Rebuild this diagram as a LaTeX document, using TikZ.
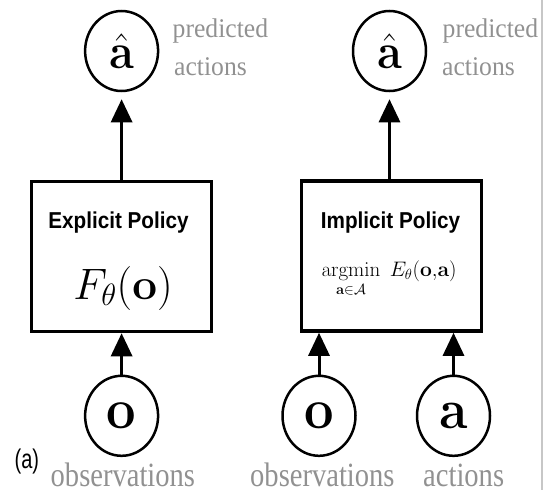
\RequirePackage{fix-cm}
\documentclass[tikz,border=0pt]{standalone}
\usepackage{amsmath}
\usepackage{graphicx}
\usepackage[no-math]{fontspec}
\setmainfont{Liberation Serif}
\newfontfamily\titlefont{Liberation Sans}
\newcommand\sqz[2]{\scalebox{#1}[1]{#2}}
\usetikzlibrary{arrows.meta,shapes.geometric}
\begin{document}
\begin{tikzpicture}[x=1pt,y=-1pt,
  lbl/.style={text=black!43, inner sep=0pt, anchor=base west, font=\fontsize{27}{27}\selectfont},
  lblb/.style={lbl, font=\fontsize{34}{34}\selectfont},
  var/.style={draw, ellipse, line width=2.5pt, minimum width=73pt, minimum height=80pt, inner sep=0pt},
  policy/.style={draw, rectangle, line width=3.5pt, minimum width=180pt, minimum height=150pt, inner sep=0pt},
  ptitle/.style={anchor=base, inner sep=0pt, font=\titlefont\bfseries\fontsize{23}{23}\selectfont},
  flow/.style={line width=3pt, -{Triangle[width=21pt,length=23pt]}},
  ]
\useasboundingbox (0,0) rectangle (545,490);
% right edge rule
\coordinate (edgeT) at (542,0);
\coordinate (edgeB) at (542,490);
\draw[black!22, line width=1.2pt] (edgeT) -- (edgeB);

% boxes
\node[policy] (boxL) at (121.6,256.5) {};
\node[policy] (boxR) at (391.3,256) {};
\node[ptitle] (tL) at (118.5,228.5) {\sqz{0.9}{Explicit Policy}};
\node[ptitle] (tR) at (390.5,228.5) {\sqz{0.9}{Implicit Policy}};
\node[anchor=base, inner sep=0pt] (fL) at (123,299) {\fontsize{44}{44}\selectfont$F_\theta(\mathbf{o})$};
\node[anchor=base, inner sep=0pt] (fR) at (389,276.5) {\fontsize{21}{21}\selectfont$\displaystyle\operatorname*{argmin}_{\mathbf{a}\in\mathcal{A}}\; E_\theta(\mathbf{o}{,}\mathbf{a})$};

% top variables
\node[var] (ahL) at (121.6,51) {\fontsize{50}{50}\selectfont\sqz{0.9}{$\hat{\mathbf{a}}$}};
\node[var] (ahR) at (389.5,51) {\fontsize{50}{50}\selectfont\sqz{0.9}{$\hat{\mathbf{a}}$}};
\node[lbl] (pL1) at (172.5,37.5) {\sqz{0.95}{predicted}};
\node[lbl] (pL2) at (174,75.5) {\sqz{0.95}{actions}};
\node[lbl] (pR1) at (442.5,37.5) {\sqz{0.95}{predicted}};
\node[lbl] (pR2) at (442,75.5) {\sqz{0.95}{actions}};

% bottom variables
\node[var] (oL) at (121.6,415.8) {\fontsize{57}{57}\selectfont\sqz{0.92}{$\mathbf{o}$}};
\node[var] (oM) at (319,415.8) {\fontsize{57}{57}\selectfont\sqz{0.92}{$\mathbf{o}$}};
\node[var] (aR) at (453.5,415.8) {\fontsize{56}{56}\selectfont\sqz{0.92}{$\mathbf{a}$}};
\node[lblb] (bL) at (50.5,486) {\sqz{0.84}{observations}};
\node[lblb] (bM) at (250,486) {\sqz{0.84}{observations}};
\node[lblb] (bR) at (423,486) {\sqz{0.84}{actions}};
\node[anchor=base west, inner sep=0pt, font=\titlefont\fontsize{27}{27}\selectfont] (cap) at (14.5,468) {\sqz{0.74}{(a)}};

% connectors
\draw[flow, shorten >=7pt] (boxL.north) -- (ahL.south);
\draw[flow, shorten >=7pt] (boxR.north -| ahR.south) -- (ahR.south);
\draw[flow] (oL.north) -- (oL.north |- boxL.south);
\draw[flow] (oM.north) -- (oM.north |- boxR.south);
\draw[flow] (aR.north) -- (aR.north |- boxR.south);
\end{tikzpicture}
\end{document}
